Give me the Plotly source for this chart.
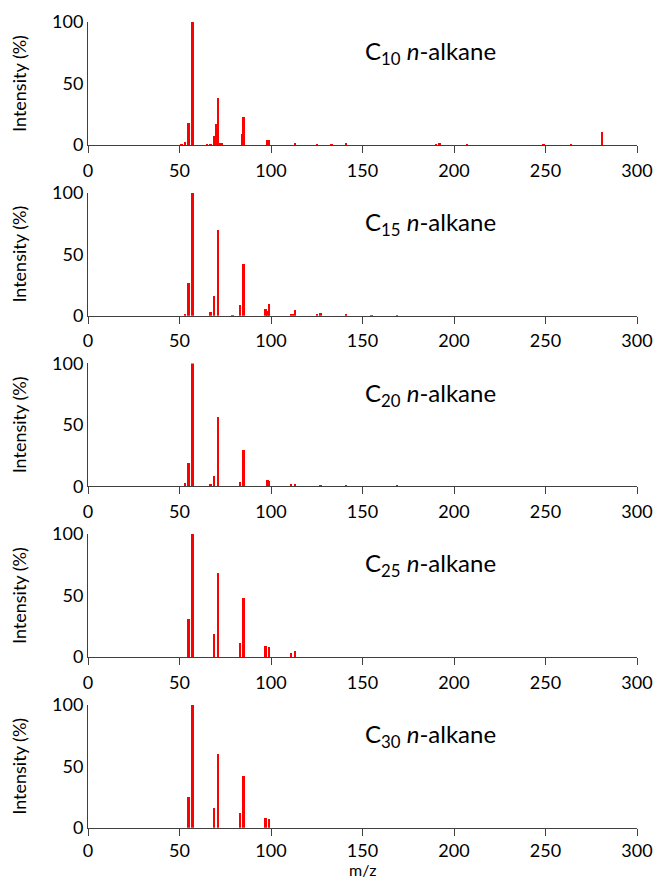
import plotly.graph_objects as go

# ---- data (m/z, relative intensity %) ----
labels = ["C<sub>10</sub> <i>n</i>-alkane", "C<sub>15</sub> <i>n</i>-alkane",
          "C<sub>20</sub> <i>n</i>-alkane", "C<sub>25</sub> <i>n</i>-alkane",
          "C<sub>30</sub> <i>n</i>-alkane"]

mz_c10 = [51, 53, 55, 57, 65, 67, 69, 70, 71, 72, 73, 84, 85, 98, 99, 113, 125, 133, 141, 190, 192, 207, 249, 264, 281]
int_c10 = [0.5, 2.7, 18, 100, 0.4, 0.8, 7, 17, 38, 1.5, 1.5, 9, 23, 4, 4, 1.5, 0.5, 0.8, 1.2, 0.7, 0.9, 0.6, 0.4, 0.5, 10.5]

mz_c15 = [53, 55, 57, 67, 69, 71, 79, 83, 85, 97, 98, 99, 111, 112, 113, 125, 127, 141, 155, 169]
int_c15 = [1, 27, 100, 3, 16, 70, 0.3, 9, 42, 6, 4, 10, 2, 2, 5, 1, 2.5, 1.3, 0.7, 0.4]

mz_c20 = [53, 55, 57, 67, 69, 71, 83, 85, 98, 99, 111, 113, 127, 141, 169]
int_c20 = [2.5, 19, 100, 1, 8, 56, 3, 29.5, 4.7, 3.8, 2, 1.5, 0.8, 0.3, 0.8]

mz_c25 = [55, 57, 69, 71, 83, 85, 97, 99, 111, 113]
int_c25 = [31, 100, 19, 68, 11, 48, 9, 8.5, 3, 5]

mz_c30 = [55, 57, 69, 71, 83, 85, 97, 99]
int_c30 = [25, 100, 16, 60, 12, 42, 8, 7.5]

x_ticks = [0, 50, 100, 150, 200, 250, 300]
y_ticks = [0, 50, 100]
x_title = "m/z"
y_title = "Intensity (%)"

series = [(mz_c10, int_c10), (mz_c15, int_c15), (mz_c20, int_c20),
          (mz_c25, int_c25), (mz_c30, int_c30)]

FONT = "Lato, Carlito, Calibri, sans-serif"
AXC = "#404040"
H = 879.0
tops = [22 + 170.7 * i for i in range(5)]
ph = 123

fig = go.Figure()
layout = dict(
    width=655, height=879,
    margin=dict(l=88, r=18, t=0, b=0, autoexpand=False),
    paper_bgcolor="white", plot_bgcolor="white",
    showlegend=False, bargap=0,
    font=dict(family=FONT, size=18, color="black"),
    annotations=[],
)

for i, (mz, inten) in enumerate(series):
    n = "" if i == 0 else str(i + 1)
    fig.add_trace(go.Bar(x=mz, y=inten, width=1.3,
                         marker=dict(color="#FF0000", line=dict(width=0)),
                         xaxis="x" + n, yaxis="y" + n))
    top = tops[i]
    bot = top + ph
    xa = dict(domain=[0, 1], range=[0, 300], tickvals=x_ticks,
              showline=True, linecolor=AXC, linewidth=1,
              ticks="outside", ticklen=7, tickcolor=AXC,
              ticklabelstandoff=(0 if i == 4 else 2), automargin=False,
              showgrid=False, zeroline=False, anchor="y" + n,
              tickfont=dict(family=FONT, size=18, color="black"))
    ya = dict(domain=[1 - bot / H, 1 - top / H], range=[0, 100],
              tickvals=y_ticks, showline=True, linecolor=AXC, linewidth=1,
              ticks="", showgrid=False, zeroline=False, anchor="x" + n,
              automargin=False,
              tickfont=dict(family=FONT, size=18, color="black"),
              title=dict(text=y_title, standoff=20,
                         font=dict(family=FONT, size=18, color="black")))
    layout["xaxis" + n] = xa
    layout["yaxis" + n] = ya
    layout["annotations"].append(dict(
        text=labels[i], x=150, y=75, xref="x" + n, yref="y" + n,
        xanchor="left", yanchor="middle", showarrow=False,
        font=dict(family=FONT, size=24, color="black")))

# x-axis title under the bottom panel
layout["annotations"].append(dict(
    text=x_title, x=150, y=0, xref="x5", yref="paper",
    xanchor="center", yanchor="bottom", showarrow=False, yshift=-2,
    font=dict(family=FONT, size=16, color="black")))

fig.update_layout(**layout)
fig.write_html("out.html")
